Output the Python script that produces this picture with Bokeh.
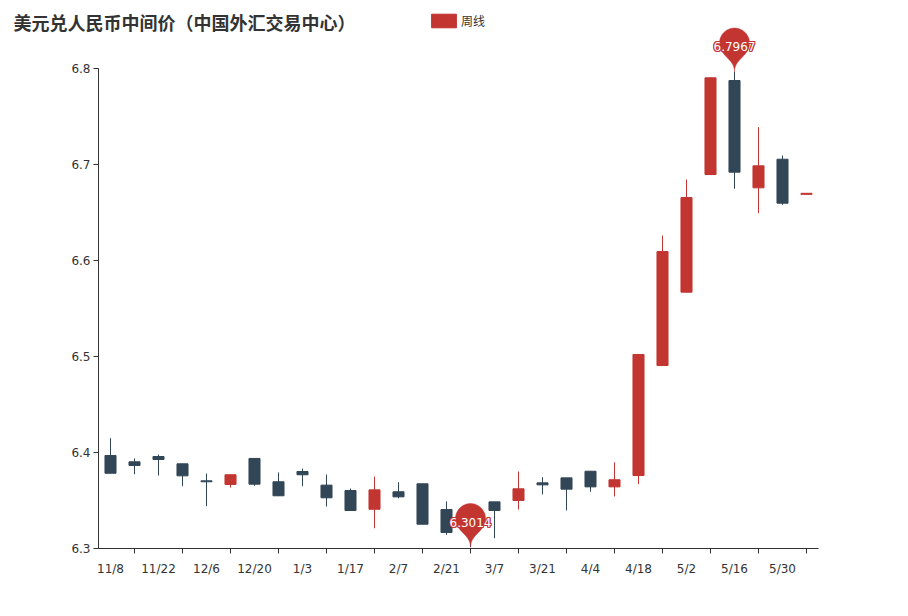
import numpy as np
from bokeh.plotting import figure
from bokeh.models import (Range1d, FixedTicker, Label, Legend, LegendItem,
                          ColumnDataSource)
from bokeh.core.properties import value
from bokeh.embed import file_html
from bokeh.resources import INLINE

# ---------------- data ----------------
dates = ["11/8", "11/15", "11/22", "11/29", "12/6", "12/13", "12/20", "12/27",
         "1/3", "1/10", "1/17", "1/24", "2/7", "2/14", "2/21", "2/28",
         "3/7", "3/14", "3/21", "3/28", "4/4", "4/11", "4/18", "4/25",
         "5/2", "5/9", "5/16", "5/23", "5/30", "6/6"]
open_ = [6.3969, 6.3903, 6.3958, 6.3882, 6.3705, 6.3667, 6.3938, 6.3695,
         6.3802, 6.3660, 6.3604, 6.3409, 6.3591, 6.3674, 6.3406, 6.3222,
         6.3486, 6.3500, 6.3684, 6.3736, 6.3805, 6.3642, 6.3760, 6.4906,
         6.5670, 6.6896, 6.7875, 6.6757, 6.7055, 6.6689]
close = [6.3784, 6.3865, 6.3927, 6.3757, 6.3695, 6.3768, 6.3670, 6.3549,
         6.3768, 6.3528, 6.3396, 6.3611, 6.3538, 6.3253, 6.3167, 6.3188,
         6.3396, 6.3622, 6.3663, 6.3618, 6.3642, 6.3716, 6.5021, 6.6094,
         6.6656, 6.7903, 6.6920, 6.6986, 6.6597, 6.6700]
low = [6.3784, 6.3774, 6.3760, 6.3649, 6.3441, 6.3635, 6.3653, 6.3549,
       6.3649, 6.3438, 6.3396, 6.3211, 6.3524, 6.3253, 6.3143, 6.3014,
       6.3107, 6.3406, 6.3563, 6.3396, 6.3591, 6.3542, 6.3670, 6.4906,
       6.5670, 6.6896, 6.6747, 6.6493, 6.6580, 6.6689]
high = [6.4149, 6.3938, 6.3979, 6.3882, 6.3781, 6.3768, 6.3938, 6.3792,
        6.3833, 6.3771, 6.3625, 6.3750, 6.3691, 6.3674, 6.3490, 6.3262,
        6.3486, 6.3802, 6.3743, 6.3736, 6.3805, 6.3896, 6.5021, 6.6260,
        6.6844, 6.7903, 6.7967, 6.7389, 6.7094, 6.6700]
y_ticks = [6.3, 6.4, 6.5, 6.6, 6.7, 6.8]
series_name = "周线"
title_text = "美元兑人民币中间价（中国外汇交易中心）"

UP = "#c23531"
DOWN = "#314656"
TXT = "#333333"

# ---------------- layout (canvas-sized frame, axes at fixed spots) ----------
W, H = 908, 616
GL, GT, GW, GH = 98, 68, 720, 480      # grid box: left, top, width, height
n = len(dates)
cat_lo, cat_hi = -0.5, n - 0.5
y_lo, y_hi = y_ticks[0], y_ticks[-1]
XPX = GW / (cat_hi - cat_lo)           # px per category
YPX = GH / (y_hi - y_lo)               # px per unit of y
x_start = cat_lo - GL / XPX
x_end = x_start + W / XPX
y_start = y_lo - (H - GT - GH) / YPX
y_end = y_start + H / YPX

idx = np.arange(n)
colors = [UP if c >= o else DOWN for o, c in zip(open_, close)]
src = ColumnDataSource(dict(
    x=idx, top=np.maximum(open_, close), bottom=np.minimum(open_, close),
    low=low, high=high, color=colors))

p = figure(width=W, height=H, output_backend="svg", toolbar_location=None,
           x_range=Range1d(x_start, x_end), y_range=Range1d(y_start, y_end),
           min_border=0)
p.outline_line_color = None
p.xgrid.visible = False
p.ygrid.visible = False
p.background_fill_color = "white"
p.border_fill_color = "white"

# candles
p.segment(x0="x", y0="low", x1="x", y1="high", color="color",
          line_width=1, source=src)
bars = p.vbar(x="x", top="top", bottom="bottom", width=0.46,
              fill_color="color", line_color="color", line_width=1,
              source=src)

# ---------------- markers (pins) ----------------
def pin_path(x0, y0, w=50, h=50):
    ww = w / 5 * 3
    hh = max(ww, h)
    r = ww / 2
    dy = r * r / (hh - r)
    cy = -hh + r + dy          # pixel offsets, y downward, tip at 0
    ang = np.arcsin(dy / r)
    dx = np.cos(ang) * r
    tanX, tanY = np.sin(ang), np.cos(ang)
    cp1, cp2 = r * 0.6, r * 0.7
    pts = []
    th = np.linspace(np.pi - ang, 2 * np.pi + ang, 60)
    pts += [(r * np.cos(t), cy + r * np.sin(t)) for t in th]

    def bez(p0, p1, p2, p3, k=20):
        out = []
        for t in np.linspace(0, 1, k):
            a = (1 - t) ** 3; b = 3 * (1 - t) ** 2 * t
            c = 3 * (1 - t) * t ** 2; d = t ** 3
            out.append((a * p0[0] + b * p1[0] + c * p2[0] + d * p3[0],
                        a * p0[1] + b * p1[1] + c * p2[1] + d * p3[1]))
        return out
    pts += bez((dx, cy + dy), (dx - tanX * cp1, cy + dy + tanY * cp1),
               (0, -cp2), (0, 0))
    pts += bez((0, 0), (0, -cp2),
               (-dx + tanX * cp1, cy + dy + tanY * cp1), (-dx, cy + dy))
    xs = [x0 + px / XPX for px, py in pts]
    ys = [y0 - py / YPX for px, py in pts]
    return xs, ys

i_min = int(np.argmin(low))
i_max = int(np.argmax(high))
marks = [(i_min, low[i_min]), (i_max, high[i_max])]
pxs, pys, lx, ly, lt = [], [], [], [], []
for i, v in marks:
    xs, ys = pin_path(i, v)
    pxs.append(xs); pys.append(ys)
    lx.append(i); ly.append(v + 25 / YPX); lt.append(f"{v:.4f}")
p.patches(pxs, pys, fill_color=UP, line_color=UP, line_width=0.5)
# outline of label text (series colour), then white text
for ox, oy in [(-1, -1), (0, -1), (1, -1), (-1, 0), (1, 0),
               (-1, 1), (0, 1), (1, 1)]:
    p.text(lx, ly, text=lt, text_color=UP, text_font=value("DejaVu Sans"),
           text_font_size="12px", text_align="center",
           text_baseline="middle", x_offset=ox, y_offset=oy)
p.text(lx, ly, text=lt, text_color="white", text_font=value("DejaVu Sans"),
       text_font_size="12px", text_align="center", text_baseline="middle")

# ---------------- axes ----------------
xa = p.xaxis[0]
xa.fixed_location = y_lo
xa.bounds = (cat_lo, cat_hi)
xa.ticker = FixedTicker(ticks=list(idx[::2]), minor_ticks=list(idx[1::2]))
xa.major_label_overrides = {int(i): dates[i] for i in idx[::2]}
xa.major_tick_out = 0
xa.major_tick_in = 0
xa.minor_tick_out = 5
xa.minor_tick_in = 0
xa.minor_tick_line_color = TXT
xa.axis_line_color = TXT
xa.major_label_standoff = 8
xa.major_label_text_font = "DejaVu Sans"
xa.major_label_text_font_size = "12px"
xa.major_label_text_color = TXT

ya = p.yaxis[0]
ya.fixed_location = cat_lo
ya.bounds = (y_lo, y_hi)
ya.ticker = FixedTicker(ticks=y_ticks)
ya.major_label_overrides = {t: f"{t:.1f}" for t in y_ticks}
ya.major_tick_out = 5
ya.major_tick_in = 0
ya.minor_tick_line_color = None
ya.major_tick_line_color = TXT
ya.axis_line_color = TXT
ya.major_label_standoff = 3
ya.major_label_text_font = "DejaVu Sans"
ya.major_label_text_font_size = "12px"
ya.major_label_text_color = TXT

# ---------------- title & legend ----------------
title = Label(x=13, y=H - 21, x_units="screen", y_units="screen",
              text=title_text, text_font="Noto Sans CJK SC",
              text_font_style="bold", text_font_size="18px",
              text_color=TXT, text_baseline="middle", text_align="left")
p.add_layout(title)

up_index = colors.index(UP)
legend = Legend(items=[LegendItem(label=series_name, renderers=[bars],
                                  index=up_index)],
                location=(428, H - 29), orientation="horizontal",
                padding=0, margin=0, border_line_color=None,
                background_fill_alpha=0, glyph_width=31, glyph_height=17,
                label_height=17, label_standoff=2,
                label_text_font="Noto Sans CJK SC",
                label_text_font_size="12px", label_text_color=TXT)
p.add_layout(legend)

open("out.html", "w").write(file_html(p, INLINE))
